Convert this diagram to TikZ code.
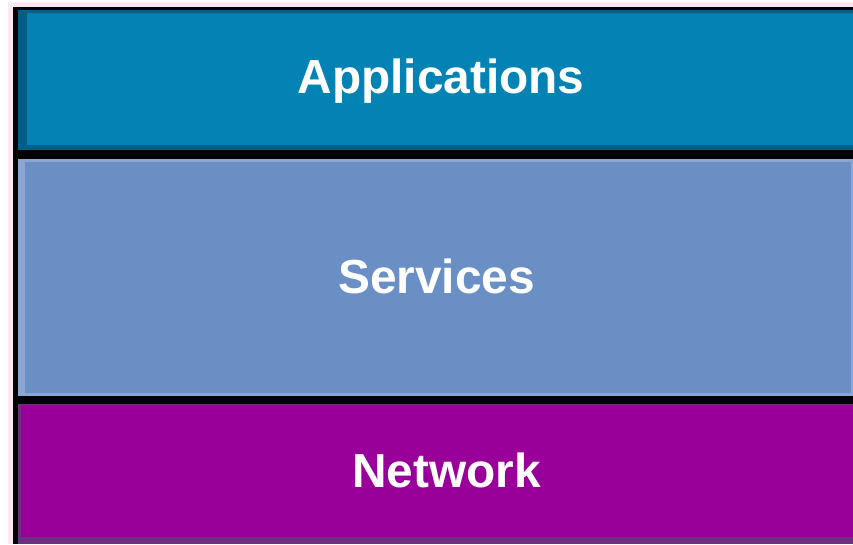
\documentclass[tikz,border=0pt]{standalone}
\usepackage{fontspec}
\setmainfont{Liberation Sans}
\definecolor{pinkbg}{HTML}{FCE8F2}
\definecolor{appdark}{HTML}{005E87}
\definecolor{appfill}{HTML}{0382B4}
\definecolor{svcedge}{HTML}{8CA6D4}
\definecolor{svcfill}{HTML}{6A8FC5}
\definecolor{netdark}{HTML}{6B3080}
\definecolor{netfill}{HTML}{990099}
\begin{document}
\begin{tikzpicture}[x=1pt,y=-1pt,
  layertext/.style={text=white,font=\bfseries\fontsize{47.8}{56}\selectfont,anchor=base,inner sep=0pt}]
\useasboundingbox (0,0) rectangle (853,544);
\fill[white] (0,0) rectangle (853,544);
\fill[pinkbg] (8,2) rectangle (853,544);
\fill[black] (13,7) rectangle (853,544);
% Applications
\fill[appdark] (18,10) rectangle (853,150);
\fill[appfill] (27,13) rectangle (853,145);
% Services
\fill[svcedge] (18,159) rectangle (853,396);
\fill[svcfill] (25,162) rectangle (851,393);
% Network
\fill[netdark] (18,404) rectangle (853,544);
\fill[netfill] (21,405) rectangle (853,537);
\node[layertext] (app) at (441,93.5) {Applications};
\node[layertext] (svc) at (436.5,293) {Services};
\node[layertext] (net) at (446.5,487.5) {Network};
\end{tikzpicture}
\end{document}
